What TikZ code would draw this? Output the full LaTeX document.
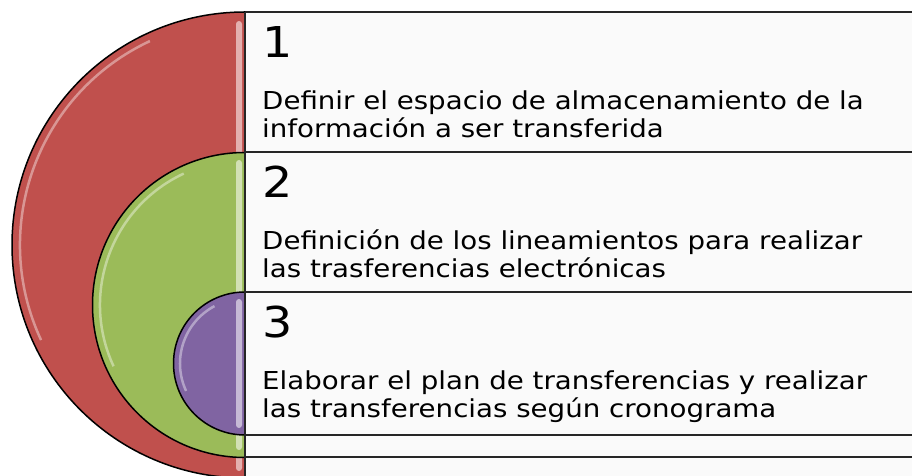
\documentclass[tikz,border=0pt]{standalone}
\usepackage{fontspec}
\setmainfont{DejaVu Sans}[FakeStretch=1.12]
\definecolor{redpart}{HTML}{C0504D}
\definecolor{greenpart}{HTML}{9BBB59}
\definecolor{purplepart}{HTML}{8064A2}
\definecolor{boxfill}{HTML}{FAFAFA}
\begin{document}
\begin{tikzpicture}[x=1pt, y=1pt,
  listbox/.style={fill=boxfill, draw=black!85, line width=2pt},
  halfdisc/.style={draw=black, line width=1.5pt},
  numtext/.style={anchor=base west, inner sep=0pt, font=\fontsize{42.5}{46}\selectfont},
  bodytext/.style={anchor=base west, inner sep=0pt, align=left, font=\fontsize{24.7}{28}\selectfont}]
  \useasboundingbox (0, 0) rectangle (912, 476);
  % boxes
  \filldraw[listbox] (245, -2) rectangle (935, 464);
  \filldraw[listbox] (245, 18.5) rectangle (935, 323.5);
  \filldraw[listbox] (245, 41) rectangle (935, 184);
  % half discs with gloss
  \fill[redpart] (245, 464) arc (90:270:233) -- cycle;
  \fill[redpart!45!white, rounded corners=3pt] (236, 455) rectangle (242, 5);
  \draw[white, opacity=0.4, line width=2.5pt] (245, 231) ++(115:225) arc (115:205:225);
  \draw[halfdisc] (245, 464) arc (90:270:233);
  \fill[greenpart] (245, 323.5) arc (90:270:152.5) -- cycle;
  \fill[greenpart!45!white, rounded corners=3pt] (236, 316) rectangle (242, 26);
  \draw[white, opacity=0.4, line width=2.5pt] (245, 171) ++(115:145) arc (115:205:145);
  \draw[halfdisc] (245, 323.5) arc (90:270:152.5);
  \fill[purplepart] (245, 184) arc (90:270:71.5) -- cycle;
  \fill[purplepart!45!white, rounded corners=3pt] (236, 177) rectangle (242, 48);
  \draw[white, opacity=0.4, line width=2.5pt] (245, 112.5) ++(118:65) arc (118:205:65);
  \draw[halfdisc] (245, 184) arc (90:270:71.5);
  \draw[black!85, line width=2pt] (245, -2) -- (245, 464);
  % texts
  \node[numtext] (num1) at (262, 418) {1};
  \node[bodytext] (text1) at (262, 338) {Definir el espacio de almacenamiento de la\\información a ser transferida};
  \node[numtext] (num2) at (262, 278) {2};
  \node[bodytext] (text2) at (262, 198) {Definición de los lineamientos para realizar\\las trasferencias electrónicas};
  \node[numtext] (num3) at (262, 138) {3};
  \node[bodytext] (text3) at (262, 58) {Elaborar el plan de transferencias y realizar\\las transferencias según cronograma};
\end{tikzpicture}
\end{document}
